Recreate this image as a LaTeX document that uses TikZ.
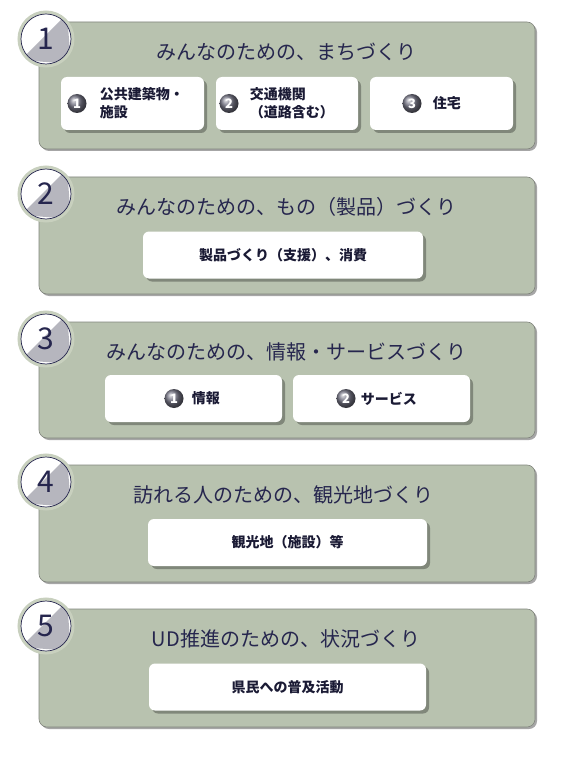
\documentclass[tikz,border=0pt]{standalone}
\usepackage{fontspec}
\setmainfont{Noto Sans CJK JP}
\usepackage{tikz}
\usepackage{xcolor}
\usetikzlibrary{shapes.geometric, positioning, shadows}
\definecolor{cPanel}{RGB}{184,194,175}
\definecolor{cEdge}{RGB}{128,132,124}
\definecolor{cNavy}{RGB}{38,38,78}
\definecolor{cInk}{RGB}{26,26,52}
\definecolor{cHalo}{RGB}{200,208,190}
\definecolor{cShade}{RGB}{182,182,190}
\definecolor{cBadge}{RGB}{118,118,134}
\tikzset{
	panel/.style   ={rectangle, rounded corners=8pt, minimum width=496pt, draw=cEdge, line width=0.6pt, fill=cPanel, drop shadow={shadow xshift=2pt, shadow yshift=-2pt, fill=black, opacity=0.35}},
	numcirc/.style ={circle, minimum size=50pt, inner sep=0pt, draw=cNavy, line width=0.7pt, fill=white, preaction={draw=cHalo, line width=7pt},
		path picture={\fill[cShade] ([xshift=-4pt]path picture bounding box.north east) -- ([yshift=4pt]path picture bounding box.south west) -- (path picture bounding box.south east) -- cycle;},
		font=\fontsize{30}{30}\selectfont, text=cNavy},
	title/.style   ={font=\fontsize{20}{24}\selectfont, text=cNavy},
	% white item boxes and their numbered badges
	sub/.style     ={rectangle, rounded corners=6pt, fill=white, minimum height=47pt, font=\bfseries\fontsize{14}{18}\selectfont, text=cInk, drop shadow={shadow xshift=3pt, shadow yshift=-3pt, fill=black, opacity=0.3}},
	subtext/.style ={font=\bfseries\fontsize{14}{18}\selectfont, text=cInk, align=left, inner sep=0pt},
	badge/.style   ={circle, minimum size=19pt, inner sep=0pt, shading=ball, ball color=cBadge, text=white, font=\bfseries\fontsize{13}{13}\selectfont},
}
\begin{document}
\begin{tikzpicture}[x=1pt, y=-1pt]
	\useasboundingbox (0,0) rectangle (569,759);
	\node[panel, minimum height=127pt] (p1) at (287,85.5) {};
	\node[panel, minimum height=117pt] (p2) at (287,235.5) {};
	\node[panel, minimum height=116pt] (p3) at (287,380) {};
	\node[panel, minimum height=117pt] (p4) at (287,523.5) {};
	\node[panel, minimum height=118pt] (p5) at (287,668) {};
	\node[numcirc] (c1) at (46,39) {1};
	\node[numcirc] (c2) at (46,194) {2};
	\node[numcirc] (c3) at (46,339) {3};
	\node[numcirc] (c4) at (46,482) {4};
	\node[numcirc] (c5) at (46,626) {5};
	\node[title] (t1) at (286,52) {みんなのための、まちづくり};
	\node[title] (t2) at (286,207) {みんなのための、もの（製品）づくり};
	\node[title] (t3) at (286,352) {みんなのための、情報・サービスづくり};
	\node[title] (t4) at (283,495) {訪れる人のための、観光地づくり};
	\node[title] (t5) at (286,639) {UD推進のための、状況づくり};
	\node[sub, minimum width=143pt, minimum height=53pt] (s11) at (132.5,103.5) {};
	\node[sub, minimum width=142pt, minimum height=53pt] (s12) at (287,103.5) {};
	\node[sub, minimum width=143pt, minimum height=53pt] (s13) at (441.5,103.5) {};
	\node[badge] (b11) at (77,103.5) {1};
	\node[badge] (b12) at (229,103.5) {2};
	\node[badge] (b13) at (412,103.5) {3};
	\node[subtext, right=13pt of b11] (x11) {公共建築物・\\施設};
	\node[subtext, right=11pt of b12] (x12) {交通機関\\（道路含む）};
	\node[subtext, right=11pt of b13] (x13) {住宅};
	\node[sub, minimum width=280pt] (s21) at (283,255) {製品づくり（支援）、消費};
	\node[sub, minimum width=177pt] (s31) at (193.5,398.5) {};
	\node[sub, minimum width=177pt] (s32) at (381.5,398.5) {};
	\node[badge] (b31) at (174,398.5) {1};
	\node[badge] (b32) at (346,398.5) {2};
	\node[subtext, right=8pt of b31] (x31) {情報};
	\node[subtext, right=5pt of b32] (x32) {サービス};
	\node[sub, minimum width=279pt] (s41) at (287.5,542.5) {観光地（施設）等};
	\node[sub, minimum width=277pt] (s51) at (287.5,687) {県民への普及活動};
\end{tikzpicture}
\end{document}
